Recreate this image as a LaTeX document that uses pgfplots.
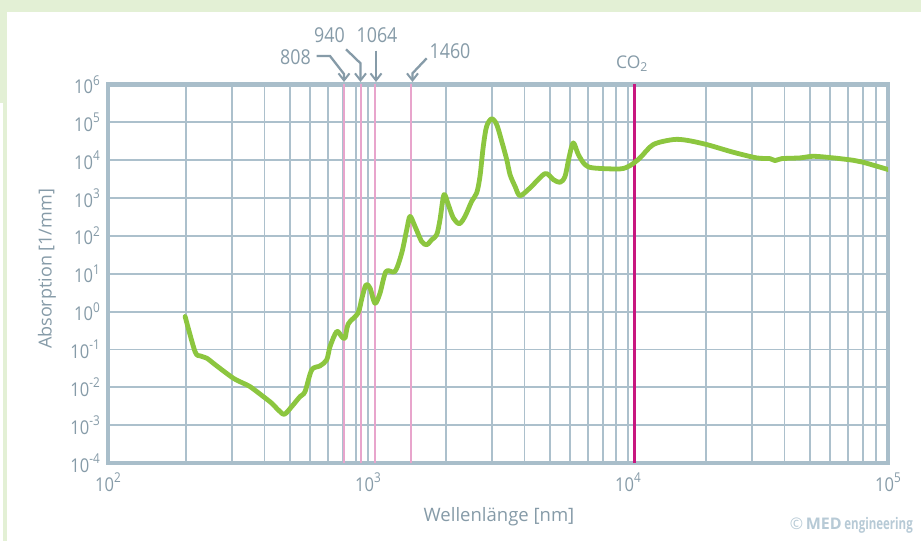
\documentclass[border=0pt]{standalone}
\usepackage{pgfplots}
\pgfplotsset{compat=1.18}
\usepackage{pgfplotstable}
\usepackage{fontspec}
\setmainfont{Open Sans}
\newfontfamily\numfont{Open Sans}[FakeStretch=0.87]
\newfontfamily\condfont{Open Sans}[FakeStretch=0.72]
\usetikzlibrary{arrows.meta}
\definecolor{framec}{RGB}{169,190,202}
\definecolor{gridc}{RGB}{172,192,204}
\definecolor{textc}{RGB}{134,155,168}
\definecolor{curvec}{RGB}{140,198,63}
\definecolor{pinkc}{RGB}{232,165,204}
\definecolor{co2c}{RGB}{200,23,127}
\definecolor{bggreen}{RGB}{227,240,213}
\definecolor{copyc}{RGB}{183,202,214}
\newcommand{\pw}[1]{{\numfont\fontsize{19}{19}\selectfont 10\raisebox{0.45em}{\fontsize{13.5}{13.5}\selectfont #1}}}

\pgfplotstableread{
x y
198 0.741
216.1 0.0880
225.8 0.0677
239.7 0.0589
261.9 0.0368
303.4 0.0174
331.4 0.0128
351.7 0.01045
395.8 0.00568
426.2 0.00380
451.9 0.00252
476.6 0.00194
508.7 0.00309
547.6 0.00568
572.4 0.00769
607.4 0.0288
653.8 0.0368
693.8 0.0531
714.3 0.119
757.9 0.298
792.1 0.219
815.6 0.199
840 0.475
915.3 0.912
948.2 2.32
982.4 5.12
1017.9 4.19
1064 1.66
1112.3 3.08
1173 11.5
1270 11.5
1348 35.3
1409 146
1450.6 328
1516 178
1608 71.5
1682 58.5
1758 79.3
1838 107.6
1892 268
1960 1230
2036 668
2129 298
2245 210
2361 328
2504 818
2618 1365
2696 3750
2776 23300
2860 78800
2990 124000
3126 87500
3268 31600
3416 10400
3518 4160
3677 2040
3842 1157
4199 1850
4796 4420
5162 3070
5477 2600
5725 3750
5946 12700
6161 28700
6441 14100
6833 7650
7354 6250
9316 5890
10180 7200
11120 11500
12510 25900
14940 35100
16820 33600
20080 25900
25410 16200
31260 11500
35180 11000
36770 9750
39010 11000
45860 11500
51620 12700
61620 11500
73550 9940
80350 8800
100300 5640
}\absdata

\begin{document}
\begin{tikzpicture}[x=1pt,y=1pt]
\useasboundingbox (0,0) rectangle (921,541);
\fill[white] (0,0) rectangle (921,541);
\fill[bggreen] (0,529) rectangle (921,541);
\fill[bggreen] (0,438) rectangle (7,541);
\fill[bggreen] (3,0) rectangle (7,438);

\begin{axis}[
  at={(108pt,78pt)}, anchor=south west,
  scale only axis, width=780pt, height=378.5pt,
  xmode=log, ymode=log,
  xmin=100, xmax=100000, ymin=1e-4, ymax=1e6,
  xtick={100,1000,10000,100000},
  xticklabels={\pw{2},\pw{3},\pw{4},\pw{5}},
  ytick={1e-4,1e-3,1e-2,1e-1,1,10,100,1000,10000,100000,1000000},
  yticklabels={\pw{-4},\pw{-3},\pw{-2},\pw{-1},\pw{0},\pw{1},\pw{2},\pw{3},\pw{4},\pw{5},\pw{6}},
  major tick length=0pt, minor tick length=0pt,
  xmajorgrids, xminorgrids, ymajorgrids,
  major grid style={line width=1.8pt, gridc},
  minor grid style={line width=1.8pt, gridc},
  axis line style={line width=4.6pt, framec},
  tick label style={textc, inner sep=0pt},
  xticklabel shift=10pt,
  yticklabel shift=8pt,
]
\addplot[pinkc, line width=2.2pt] coordinates {(808,1e-4) (808,1e6)};
\addplot[pinkc, line width=2.2pt] coordinates {(940,1e-4) (940,1e6)};
\addplot[pinkc, line width=2.2pt] coordinates {(1064,1e-4) (1064,1e6)};
\addplot[pinkc, line width=2.2pt] coordinates {(1460,1e-4) (1460,1e6)};
\addplot[co2c, line width=2.4pt] coordinates {(10600,1e-4) (10600,1e6)};
\addplot[curvec, line width=4.8pt, smooth, tension=0.5, line cap=round, line join=round] table[x=x,y=y] {\absdata};
\end{axis}

% annotations
\begin{scope}[textc, line width=2.3pt, -{Straight Barb[length=7pt,width=11pt,line width=2pt]}]
\draw (316.7,485) -- (330,485) -- (344,467) -- (344,459);
\draw (346,491.7) -- (360.5,477.7) -- (360.5,459);
\draw (376,490.3) -- (376,459);
\draw (426.7,482.7) -- (412.5,467.7) -- (412.5,459);
\end{scope}
\begin{scope}[textc]
\node[font=\numfont\fontsize{20.5}{20.5}\selectfont] at (295.5,484.3) {808};
\node[font=\numfont\fontsize{20.5}{20.5}\selectfont] at (329.5,506) {940};
\node[font=\numfont\fontsize{20.5}{20.5}\selectfont] at (377,506) {1064};
\node[font=\numfont\fontsize{20.5}{20.5}\selectfont] at (450,490.3) {1460};
\node[font=\fontsize{17.5}{17.5}\selectfont] at (632,477) {CO\textsubscript{2}};
\node[font=\fontsize{18}{18}\selectfont, rotate=90] at (47,272) {Absorption [1/mm]};
\node[font=\fontsize{18.5}{18.5}\selectfont] at (499,24) {Wellenlänge [nm]};
\end{scope}
\node[copyc, anchor=east, inner sep=0pt, font=\fontsize{16}{16}\selectfont] at (913,16)
  {©\,\textbf{MED}\,{\condfont\bfseries engineering}};
\end{tikzpicture}
\end{document}
